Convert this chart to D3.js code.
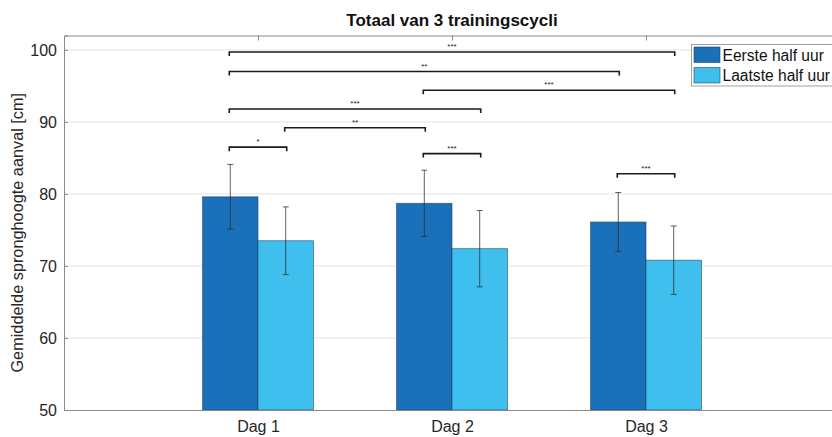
<!DOCTYPE html>
<html>
<head>
<meta charset="utf-8">
<script src="https://cdn.jsdelivr.net/npm/d3@7"></script>
<style>
  html, body { margin: 0; padding: 0; background: #fff; }
  svg { display: block; font-family: "Liberation Sans", Arial, sans-serif; }
</style>
</head>
<body>
<svg id="chart" width="832" height="437"></svg>
<script>
// Categories and series
const categories = ["Dag 1", "Dag 2", "Dag 3"];
const seriesNames = ["Eerste half uur", "Laatste half uur"];

// Mean jump height per day (cm) and standard deviation
const eersteMean = [79.6, 78.7, 76.1];
const eersteSd   = [4.5, 4.6, 4.1];
const laatsteMean = [73.5, 72.4, 70.8];
const laatsteSd   = [4.7, 5.3, 4.75];

// Y-axis ticks
const yTicks = [50, 60, 70, 80, 90, 100];

// Significance brackets: [day index, series index] at both ends, height and label
const bracketFrom  = [[0, 0], [0, 0], [1, 0], [0, 0], [0, 1], [0, 0], [1, 0], [2, 0]];
const bracketTo    = [[2, 1], [2, 0], [2, 1], [1, 1], [1, 0], [0, 1], [1, 1], [2, 1]];
const bracketLevel = [99.7, 97.0, 94.4, 91.8, 89.2, 86.5, 85.6, 82.8];
const bracketLabel = ["***", "**", "***", "***", "**", "*", "***", "***"];

const colors = ["#1a70b9", "#3ebfed"];
const meanBySeries = [eersteMean, laatsteMean];
const sdBySeries = [eersteSd, laatsteSd];

const svg = d3.select("#chart");
const plot = { left: 64, right: 840, top: 35.5, bottom: 410 };

const x = d3.scaleLinear().domain([0, categories.length + 1]).range([plot.left, plot.right]);
const y = d3.scaleLinear().domain([50, 102]).range([plot.bottom, plot.top]);
// offset of each series inside a group, in category units
const sub = d3.scaleBand().domain(d3.range(seriesNames.length)).range([-0.2857, 0.2857]);
const barW = x(sub.bandwidth()) - x(0);
const barCenter = (ci, si) => x(ci + 1 + sub(si) + sub.bandwidth() / 2);

svg.append("clipPath").attr("id", "clip")
  .append("rect").attr("x", plot.left).attr("y", plot.top)
  .attr("width", plot.right - plot.left).attr("height", plot.bottom - plot.top);

// grid lines
svg.append("g").selectAll("line").data(yTicks.slice(1)).join("line")
  .attr("x1", plot.left).attr("x2", plot.right)
  .attr("y1", d => y(d)).attr("y2", d => y(d))
  .attr("stroke", "#e3e3e3").attr("stroke-width", 1);

// bars
const bars = [];
seriesNames.forEach((s, si) => categories.forEach((c, ci) => bars.push({ ci, si, v: meanBySeries[si][ci], sd: sdBySeries[si][ci] })));

svg.append("g").attr("clip-path", "url(#clip)").selectAll("rect").data(bars).join("rect")
  .attr("x", d => x(d.ci + 1 + sub(d.si)))
  .attr("width", barW)
  .attr("y", d => y(d.v))
  .attr("height", d => y(50) - y(d.v))
  .attr("fill", d => colors[d.si])
  .attr("stroke", "#1d3f63").attr("stroke-opacity", 0.7).attr("stroke-width", 0.8);

// error bars
const eb = svg.append("g").attr("stroke", "#2b2b2b").attr("stroke-opacity", 0.75).attr("stroke-width", 1);
bars.forEach(d => {
  const cx = barCenter(d.ci, d.si);
  const g = eb.append("g");
  g.append("line").attr("x1", cx).attr("x2", cx).attr("y1", y(d.v + d.sd)).attr("y2", y(d.v - d.sd));
  [d.v + d.sd, d.v - d.sd].forEach(v => g.append("line")
    .attr("x1", cx - 3).attr("x2", cx + 3).attr("y1", y(v)).attr("y2", y(v)));
});

// axes
const axisColor = "#8a8a8a";
const yAxis = svg.append("g").attr("transform", `translate(${plot.left},0)`)
  .call(d3.axisLeft(y).tickValues(yTicks).tickSize(-4).tickPadding(7).tickFormat(d3.format("d")));
yAxis.select(".domain").attr("stroke", axisColor);
yAxis.selectAll(".tick line").attr("stroke", axisColor);
yAxis.selectAll("text").attr("font-size", 16).attr("fill", "#262626")
  .attr("font-family", "'Liberation Sans', Arial, sans-serif");

const xAxis = svg.append("g").attr("transform", `translate(0,${plot.bottom})`)
  .call(d3.axisBottom(x).tickValues(categories.map((c, i) => i + 1))
    .tickFormat((d, i) => categories[i]).tickSize(-4).tickPadding(11));
xAxis.select(".domain").attr("stroke", axisColor);
xAxis.selectAll(".tick line").attr("stroke", "none");
xAxis.selectAll("text").attr("font-size", 16).attr("fill", "#262626")
  .attr("font-family", "'Liberation Sans', Arial, sans-serif");

// top border with inward ticks
const topAxis = svg.append("g").attr("transform", `translate(0,${plot.top})`)
  .call(d3.axisTop(x).tickValues(categories.map((c, i) => i + 1)).tickSize(-5).tickFormat(""));
topAxis.select(".domain").attr("stroke", axisColor);
topAxis.selectAll(".tick line").attr("stroke", axisColor);

// significance brackets
const br = svg.append("g");
bracketLevel.forEach((lvl, i) => {
  const x1 = barCenter(bracketFrom[i][0], bracketFrom[i][1]) - 1;
  const x2 = barCenter(bracketTo[i][0], bracketTo[i][1]) + 1;
  const yy = y(lvl);
  br.append("path")
    .attr("d", `M${x1},${yy + 4}V${yy}H${x2}V${yy + 4}`)
    .attr("fill", "none").attr("stroke", "#1a1a1a").attr("stroke-width", 1.6);
  br.append("text").attr("x", (x1 + x2) / 2).attr("y", yy - 3)
    .attr("text-anchor", "middle").attr("font-size", 8).attr("fill", "#222")
    .text(bracketLabel[i]);
});

// title
svg.append("text").attr("x", (plot.left + plot.right) / 2).attr("y", 26)
  .attr("text-anchor", "middle").attr("font-size", 17).attr("font-weight", "bold")
  .attr("fill", "#111").text("Totaal van 3 trainingscycli");

// y label
svg.append("text").attr("transform", `translate(23,${(plot.top + plot.bottom) / 2 + 10}) rotate(-90)`)
  .attr("text-anchor", "middle").attr("font-size", 16.3).attr("fill", "#262626")
  .text("Gemiddelde spronghoogte aanval [cm]");

// legend
const lg = svg.append("g").attr("transform", "translate(691.5,44.5)");
lg.append("rect").attr("width", 150).attr("height", 41.5)
  .attr("fill", "#fff").attr("stroke", "#a0a0a0").attr("stroke-width", 1);
seriesNames.forEach((s, i) => {
  lg.append("rect").attr("x", 2.5).attr("y", 2.5 + i * 20.5).attr("width", 26).attr("height", 15.5)
    .attr("fill", colors[i]).attr("stroke", "#1d3f63").attr("stroke-opacity", 0.7).attr("stroke-width", 0.8);
  lg.append("text").attr("x", 31).attr("y", 16 + i * 20.5).attr("font-size", 15.6)
    .attr("fill", "#111").text(s);
});
</script>
</body>
</html>
